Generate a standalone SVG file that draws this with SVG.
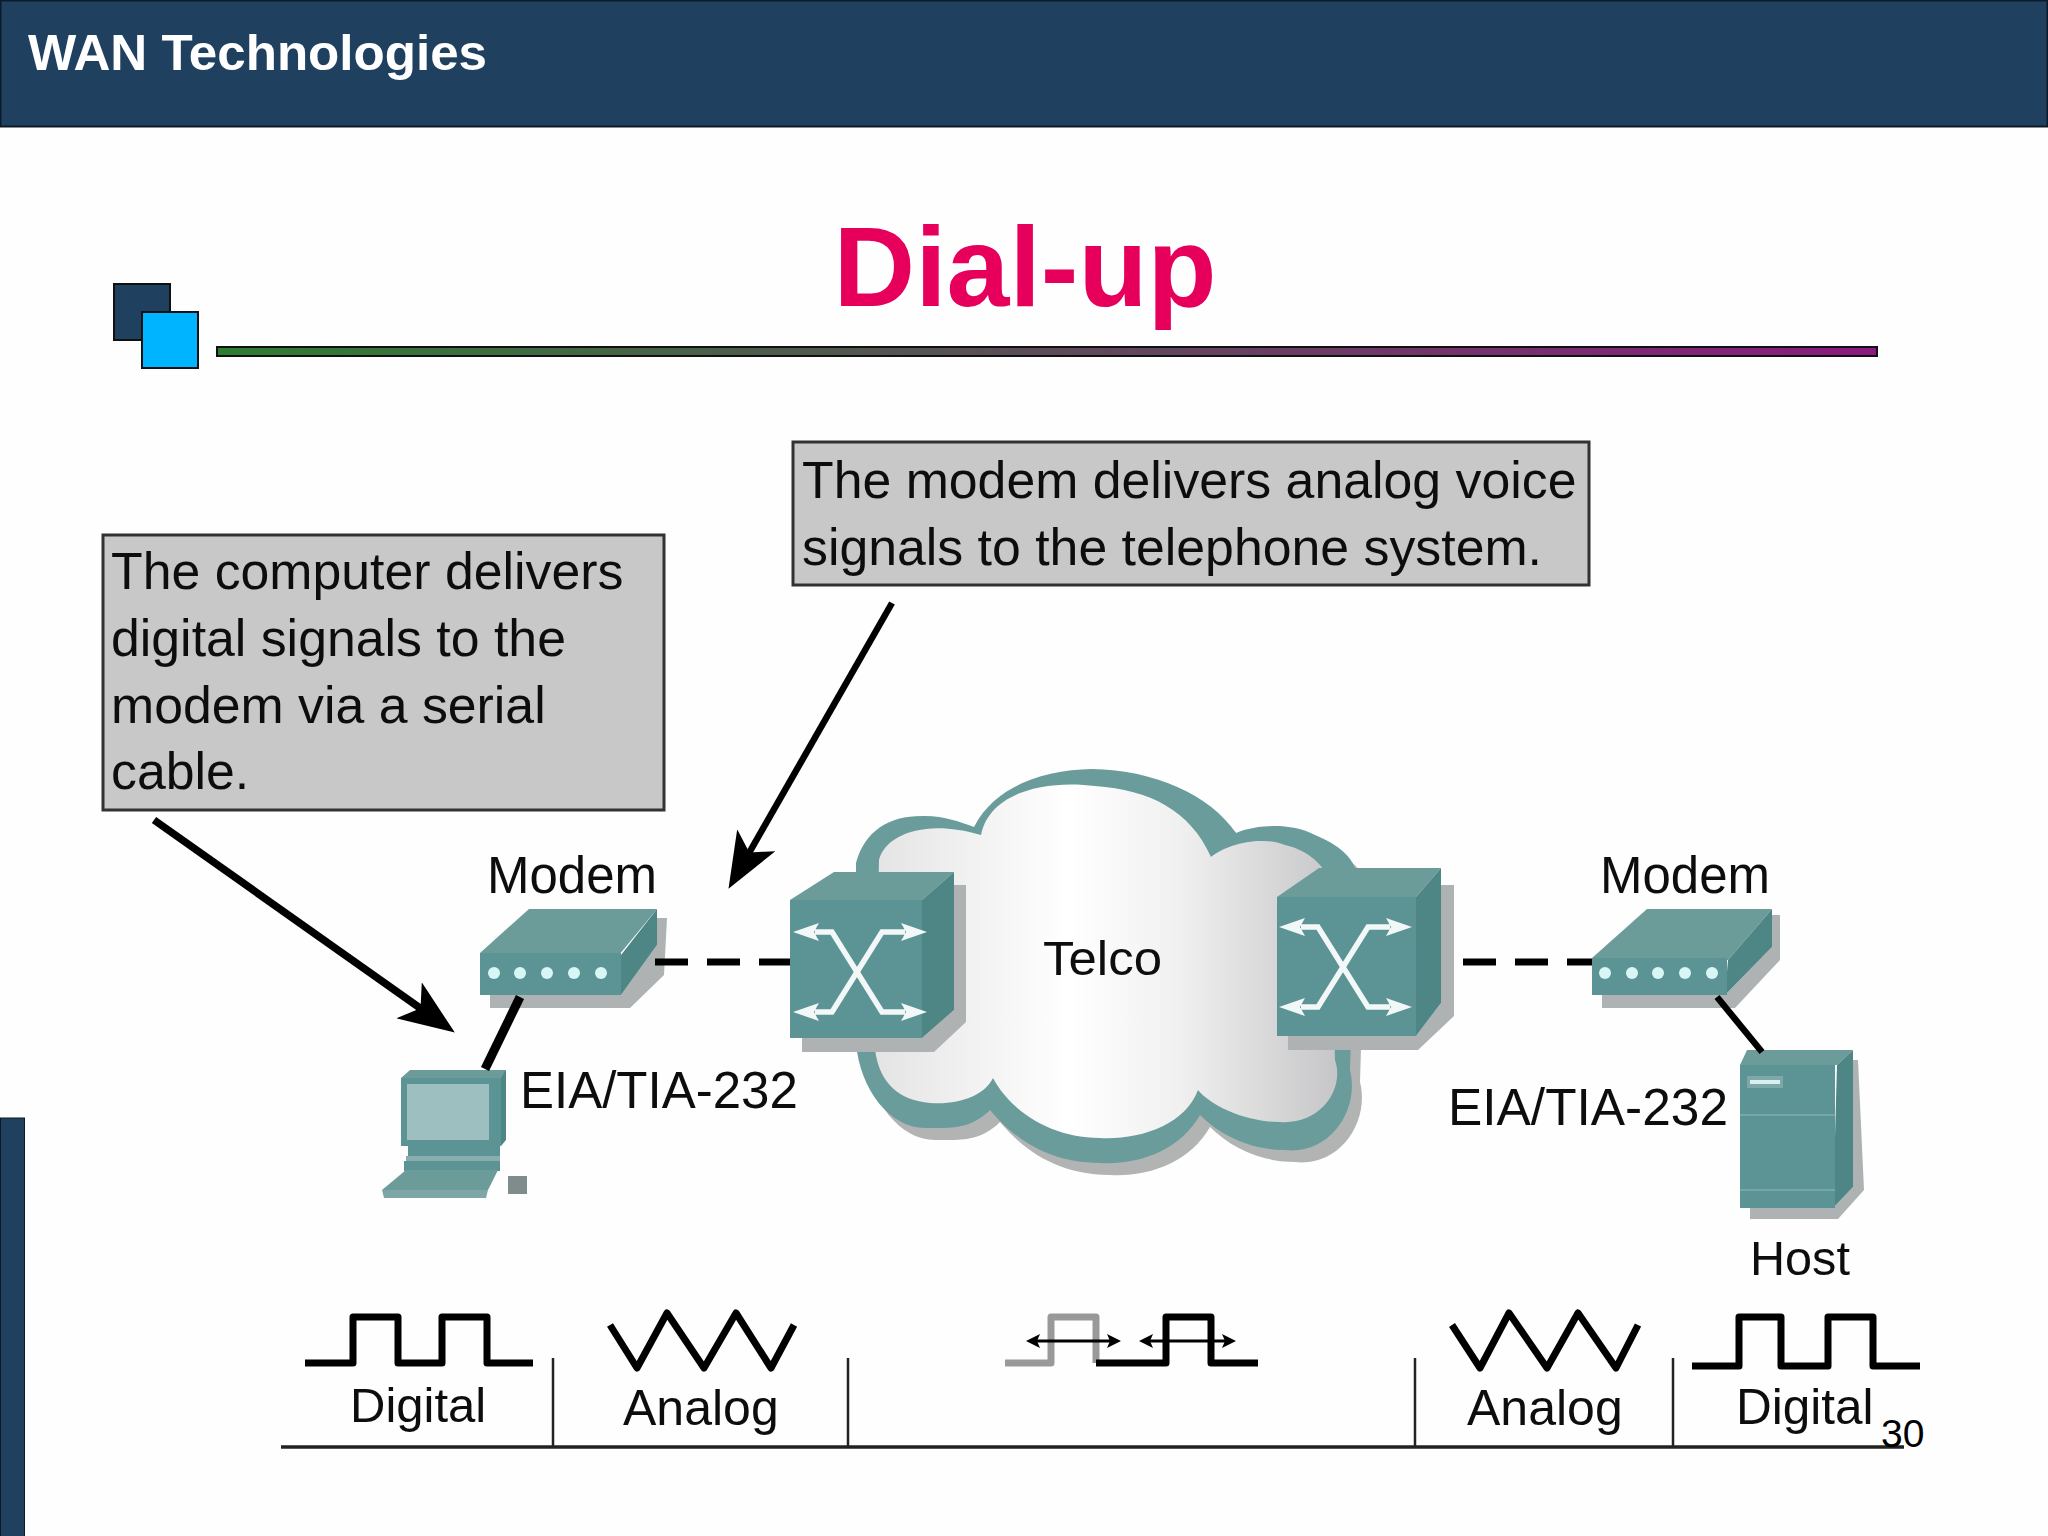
<svg xmlns="http://www.w3.org/2000/svg" width="2048" height="1536" viewBox="0 0 2048 1536">
<style>
text{font-family:"Liberation Sans",Arial,sans-serif;fill:#111}
.soft{filter:url(#soft)}
.lbl{font-size:51px}
.call{font-size:51.8px;fill:#111}
.box{fill:#c8c8c8;stroke:#333;stroke-width:3}
.wave{fill:none;stroke:#000;stroke-width:7;stroke-linejoin:round;stroke-linecap:butt}
.tick{stroke:#222;stroke-width:2.5;fill:none}
.top{fill:#6c9c9a}.front{fill:#5c9395}.side{fill:#4d8685}.shade{fill:#aeb2b2}
.lite{fill:#d8f6f6}
.xa{fill:none;stroke:#f2f8f8;stroke-width:5.5;marker-start:url(#wh);marker-end:url(#wh)}
.sa{fill:none;stroke:#000;stroke-width:3;marker-start:url(#bh);marker-end:url(#bh)}
</style>
<defs>
<filter id="soft" x="-5%" y="-5%" width="110%" height="110%"><feGaussianBlur stdDeviation="0.7"/></filter>
<linearGradient id="bar" x1="0" x2="1" y1="0" y2="0"><stop offset="0" stop-color="#2e7d32"/><stop offset="1" stop-color="#8b1a80"/></linearGradient>
<linearGradient id="cl" x1="0" x2="1" y1="0" y2="0"><stop offset="0" stop-color="#e4e4e4"/><stop offset=".42" stop-color="#ffffff"/><stop offset=".66" stop-color="#f0f0f0"/><stop offset="1" stop-color="#c6c6c8"/></linearGradient>
<marker id="big" markerUnits="userSpaceOnUse" viewBox="0 0 56 44" markerWidth="56" markerHeight="44" refX="30" refY="22" orient="auto"><path d="M56 22L0 0L14 22L0 44Z" fill="#000"/></marker>
<marker id="wh" markerUnits="userSpaceOnUse" viewBox="0 0 26 18" markerWidth="26" markerHeight="18" refX="4" refY="9" orient="auto-start-reverse"><path d="M26 9L0 0L5 9L0 18Z" fill="#f2f8f8"/></marker>
<marker id="bh" markerUnits="userSpaceOnUse" viewBox="0 0 14 14" markerWidth="14" markerHeight="14" refX="4" refY="7" orient="auto-start-reverse"><path d="M14 7L0 0L3 7L0 14Z" fill="#000"/></marker>
<path id="cloudOuter" d="M856 863C865 830 890 815 925 816C945 816 960 822 974 827C995 785 1045 770 1092 769C1155 770 1210 795 1236 833C1255 825 1290 822 1315 835C1340 845 1352 858 1356 870L1350 1070C1360 1110 1330 1155 1285 1150C1250 1150 1220 1135 1200 1115C1180 1150 1140 1165 1100 1163C1050 1163 1015 1140 990 1110C970 1130 950 1128 925 1128C890 1128 860 1090 856 1043Z"/>
</defs>
<rect width="2048" height="1536" fill="#fefefe"/>
<g id="header"><rect x="0.5" y="0.5" width="2047" height="126" fill="#204060" stroke="#0c1a28" stroke-width="2"/><text x="28" y="70" font-size="50" font-weight="700" style="fill:#fff" textLength="459" lengthAdjust="spacingAndGlyphs">WAN Technologies</text></g>
<rect id="sidebar" x="0.5" y="1118" width="24" height="420" fill="#204060" stroke="#0c1a28" stroke-width="1"/>
<text id="title" x="1025" y="306" text-anchor="middle" font-size="113" font-weight="700" style="fill:#e6005c">Dial-up</text>
<g id="logo"><rect x="114" y="284" width="56" height="56" fill="#204060" stroke="#111" stroke-width="2"/><rect x="142" y="312" width="56" height="56" fill="#00b4ff" stroke="#111" stroke-width="2"/></g>
<rect id="rule" x="217" y="347" width="1660" height="9" fill="url(#bar)" stroke="#111" stroke-width="2"/>

<g id="callout-computer" class="soft"><rect class="box" x="103" y="535" width="561" height="275"/>
<text class="call" x="111" y="589">The computer delivers</text><text class="call" x="111" y="656">digital signals to the</text><text class="call" x="111" y="723">modem via a serial</text><text class="call" x="111" y="789">cable.</text></g>
<g id="callout-modem" class="soft"><rect class="box" x="793" y="442" width="796" height="143"/>
<text class="call" x="802" y="498">The modem delivers analog voice</text><text class="call" x="802" y="565">signals to the telephone system.</text></g>

<g id="cloud" class="soft">
<use href="#cloudOuter" x="10" y="12" fill="#b2b4b4"/>
<use href="#cloudOuter" fill="#6a9c9c"/>
<path d="M879 860C885 835 925 818 981 835C990 790 1050 780 1095 786C1150 790 1190 810 1211 857C1225 845 1260 835 1285 845C1305 850 1320 860 1330 880L1335 1060C1345 1090 1320 1125 1280 1122C1245 1122 1210 1105 1198 1090C1185 1125 1140 1140 1100 1138C1050 1138 1010 1110 993 1078C985 1095 960 1105 930 1103C900 1100 880 1085 875 1050Z" fill="url(#cl)"/>
<text x="1043" y="975" font-size="48" textLength="119" lengthAdjust="spacingAndGlyphs">Telco</text>
</g>

<g id="modem-left" class="soft">
<path class="shade" d="M490 995V1008H630L664 975L667 918H657V945L621 995Z"/>
<path class="top" d="M480 953L529 909H657L619 955Z"/>
<path class="side" d="M657 909V945L621 995V955Z"/>
<rect class="front" x="480" y="953" width="141" height="42"/>
<circle class="lite" cx="494" cy="973" r="6"/><circle class="lite" cx="520" cy="973" r="6"/><circle class="lite" cx="547" cy="973" r="6"/><circle class="lite" cx="574" cy="973" r="6"/><circle class="lite" cx="601" cy="973" r="6"/>
<text class="lbl" x="487" y="893">Modem</text>
</g>

<g id="switch-left" class="soft">
<path class="shade" d="M802 1038V1052H934L966 1022V885H954V1010L922 1038Z"/>
<path class="top" d="M790 900L834 872H954L922 900Z"/>
<path class="side" d="M954 872V1010L922 1038V900Z"/>
<rect class="front" x="790" y="900" width="132" height="138"/>
<path class="xa" d="M815 932H832L882 1012H905"/><path class="xa" d="M815 1012H832L882 932H905"/>
</g>

<g id="switch-right" class="soft">
<path class="shade" d="M1288 1036V1050H1418L1454 1016V885H1441V1003L1416 1036Z"/>
<path class="top" d="M1277 897L1319 868H1441L1416 897Z"/>
<path class="side" d="M1441 868V1003L1416 1036V897Z"/>
<rect class="front" x="1277" y="897" width="139" height="139"/>
<path class="xa" d="M1301 927H1318L1368 1007H1390"/><path class="xa" d="M1301 1007H1318L1368 927H1390"/>
</g>

<g id="modem-right" class="soft">
<path class="shade" d="M1602 995V1008H1735L1780 960V915H1772V947L1725 995Z"/>
<path class="top" d="M1592 958L1647 909H1772L1728 960Z"/>
<path class="side" d="M1772 909V947L1725 995L1728 960Z"/>
<rect class="front" x="1592" y="958" width="135" height="37"/>
<circle class="lite" cx="1605" cy="973" r="6"/><circle class="lite" cx="1632" cy="973" r="6"/><circle class="lite" cx="1658" cy="973" r="6"/><circle class="lite" cx="1685" cy="973" r="6"/><circle class="lite" cx="1712" cy="973" r="6"/>
<text class="lbl" x="1600" y="893">Modem</text>
</g>

<g id="computer" class="soft">
<path class="top" d="M401 1078L410 1070H506V1085H401Z"/>
<rect class="front" x="401" y="1078" width="100" height="68"/>
<path class="side" d="M501 1078L506 1070V1140L501 1146Z"/>
<rect x="407" y="1084" width="82" height="56" fill="#9dbfbf"/>
<rect class="front" x="408" y="1146" width="92" height="10"/><rect x="406" y="1156" width="94" height="5" fill="#8aaeae"/><rect class="front" x="404" y="1161" width="96" height="10"/>
<path class="top" d="M382 1190L406 1170H498L488 1190Z"/><path fill="#7fa6a6" d="M382 1190H488L486 1198H384Z"/>
<rect x="508" y="1176" width="19" height="18" fill="#808c8c"/>
<text class="lbl" x="520" y="1108">EIA/TIA-232</text>
</g>

<g id="host" class="soft">
<path class="shade" d="M1750 1208V1219H1838L1864 1190L1858 1060H1853V1187L1833 1208Z"/>
<path class="top" d="M1740 1065L1747 1050H1853L1837 1065Z"/>
<path class="side" d="M1853 1050V1187L1833 1208L1837 1065Z"/>
<rect class="front" x="1740" y="1065" width="95" height="143"/>
<rect x="1747" y="1076" width="36" height="12" fill="#7fa8a8"/><rect x="1750" y="1080" width="30" height="4" fill="#d8f0f0"/>
<path d="M1740 1115H1835M1740 1190H1835" stroke="#78a6a6" stroke-width="2" fill="none"/>
<text class="lbl" x="1750" y="1275" style="font-size:48.6px">Host</text>
<text class="lbl" x="1448" y="1125" textLength="280" lengthAdjust="spacingAndGlyphs">EIA/TIA-232</text>
</g>

<g id="connectors" class="soft">
<path d="M655 962H790" fill="none" stroke="#000" stroke-width="7" stroke-dasharray="33 19"/>
<path d="M1463 962H1592" fill="none" stroke="#000" stroke-width="7" stroke-dasharray="33 19"/>
<path d="M520 997L485 1069" fill="none" stroke="#000" stroke-width="9"/>
<path d="M1717 997L1762 1052" fill="none" stroke="#000" stroke-width="6.5"/>
<path d="M154 820L433.6 1017.6" fill="none" stroke="#000" stroke-width="7.5" marker-end="url(#big)"/>
<path d="M892 603L741.4 866.3" fill="none" stroke="#000" stroke-width="6.5" marker-end="url(#big)"/>
</g>

<g id="signal-timeline" class="soft">
<path class="tick" d="M281 1447H1904" style="stroke-width:3.5"/>
<path class="tick" d="M553 1358V1447M848 1358V1447M1415 1358V1447M1673 1358V1447"/>
<path class="wave" d="M305 1363H353V1317H398V1363H442V1317H487V1363H533"/>
<path class="wave" d="M610 1325L637 1368L667 1313L704 1368L736 1313L771 1368L794 1325"/>
<path class="wave" style="stroke:#999" d="M1005 1363H1051V1317H1096V1363"/>
<path class="wave" d="M1096 1363H1166V1317H1211V1363H1258"/>
<path class="sa" d="M1036 1341H1111"/><path class="sa" d="M1149 1341H1226"/>
<path class="wave" d="M1452 1325L1480 1368L1509 1313L1547 1368L1578 1313L1616 1368L1638 1325"/>
<path class="wave" d="M1692 1366H1739V1317H1781V1366H1828V1317H1873V1366H1920"/>
<text x="350" y="1422" font-size="49">Digital</text><text x="623" y="1425" font-size="50">Analog</text><text x="1467" y="1425" font-size="50">Analog</text><text x="1736" y="1424" font-size="49.5">Digital</text>
</g>
<text id="page" x="1881" y="1447" font-size="39" style="fill:#000">30</text>
</svg>
